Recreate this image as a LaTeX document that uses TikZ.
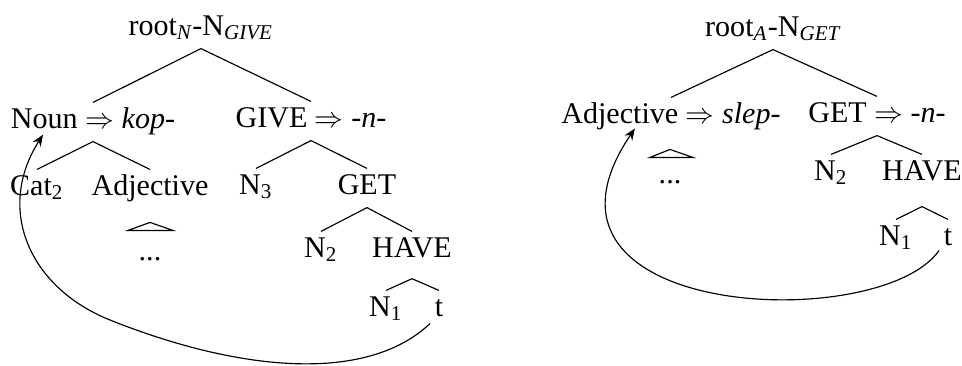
\documentclass[tikz,border=0pt]{standalone}
\usepackage{amsmath}
\usepackage{fontspec}
\setmainfont{Liberation Serif}
\usetikzlibrary{arrows.meta}

\begin{document}
\begin{tikzpicture}[x=0.346pt, y=-0.346pt,
  font=\fontsize{10.4}{12.5}\selectfont,
  lbl/.style={anchor=base, inner sep=0pt, text height=8.65pt, text depth=4.5pt},
  branch/.style={line width=0.4pt},
  move/.style={-{Stealth[length=4pt,width=3.2pt]}, line width=0.4pt}
]
  \useasboundingbox (0,0) rectangle (962,365);

  % left tree
  \node[lbl] (rootN) at (201,35)  {root$_{\textit{N}}$-N$_{\textit{GIVE}}$};
  \node[lbl] (noun)  at (93,128)  {Noun $\Rightarrow$ \textit{kop-}};
  \node[lbl] (give)  at (311,127) {GIVE $\Rightarrow$ \textit{-n-}};
  \node[lbl] (cat)   at (37,195)  {Cat$_{\text{2}}$};
  \node[lbl] (adjL)  at (150,195) {Adjective};
  \node[lbl] (nThr)  at (256,194) {N$_{\text{3}}$};
  \node[lbl] (getL)  at (367,194) {GET};
  \node[lbl] (dotsL) at (150,260) {...};
  \node[lbl] (nTwoL) at (321,257) {N$_{\text{2}}$};
  \node[lbl] (haveL) at (412,257) {HAVE};
  \node[lbl] (nOneL) at (386,316) {N$_{\text{1}}$};
  \node[lbl] (tL)    at (439,316) {t};

  \draw[branch] (noun.north) -- (rootN.south) -- (give.north);
  \draw[branch] (cat.north) -- (noun.south) -- (adjL.north);
  \draw[branch] (nThr.north) -- (give.south) -- (getL.north);
  \draw[branch] (nTwoL.north) -- (getL.south) -- (haveL.north);
  \draw[branch] (nOneL.north) -- ([yshift=-2.8pt]haveL.south) -- (tL.north);
  \draw[branch] (dotsL.north) ++(-22,-4) -- ++(22,-8) -- ++(23,8) -- cycle;

  \draw[move] ([xshift=-3.1pt,yshift=2.1pt]tL.south)
    .. controls (365,385) and (235,370) .. (110,320)
    .. controls (30,288) and (-5,210) .. ([xshift=-17.3pt,yshift=2.4pt]noun.south);

  % right tree
  \node[lbl] (rootA) at (773,36)  {root$_{\textit{A}}$-N$_{\textit{GET}}$};
  \node[lbl] (adjR)  at (671,123) {Adjective $\Rightarrow$ \textit{slep-}};
  \node[lbl] (getR)  at (877,122) {GET $\Rightarrow$ \textit{-n-}};
  \node[lbl] (dotsR) at (670,183) {...};
  \node[lbl] (nTwoR) at (831,180) {N$_{\text{2}}$};
  \node[lbl] (haveR) at (922,180) {HAVE};
  \node[lbl] (nOneR) at (896,245) {N$_{\text{1}}$};
  \node[lbl] (tR)    at (948,245) {t};

  \draw[branch] (adjR.north) -- (rootA.south) -- (getR.north);
  \draw[branch] (nTwoR.north) -- (getR.south) -- (haveR.north);
  \draw[branch] (nOneR.north) -- ([yshift=-4.5pt]haveR.south) -- (tR.north);
  \draw[branch] (dotsR.north) ++(-20,0) -- ++(20,-8) -- ++(23,8) -- cycle;

  \draw[move] ([xshift=-3.1pt,yshift=2.8pt]tR.south)
    .. controls (880,335) and (505,320) .. ([xshift=-12.5pt,yshift=2.8pt]adjR.south);
\end{tikzpicture}
\end{document}
